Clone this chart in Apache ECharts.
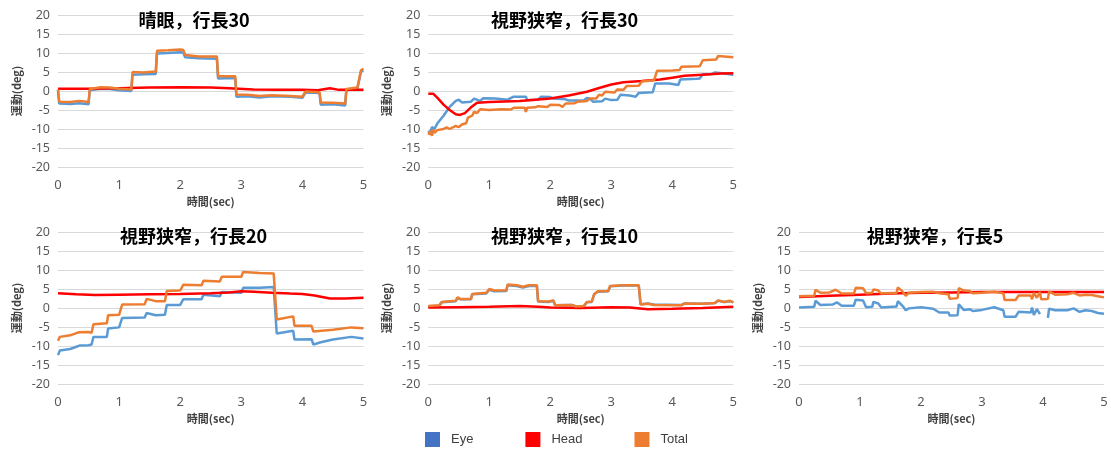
<!DOCTYPE html>
<html><head><meta charset="utf-8">
<script src="https://cdn.jsdelivr.net/npm/echarts@6/dist/echarts.min.js"></script>
<style>html,body{margin:0;padding:0;background:#fff}#c{width:1111px;height:452px}</style>
</head><body><div id="c"></div>
<script>
// ---- data ----
const titles = ['晴眼，行長30', '視野狭窄，行長30', '視野狭窄，行長20', '視野狭窄，行長10', '視野狭窄，行長5'];
const seriesNames = ['Eye', 'Head', 'Total'];
const xName = '時間(sec)';
const yName = '運動(deg)';
const xMin = 0, xMax = 5, xStep = 1;
const yMin = -20, yMax = 20, yStep = 5;

// panel 1: 晴眼，行長30
const eye1 = [[0,0.2],[0.02,-3.3],[0.2,-3.4],[0.35,-3.2],[0.5,-3.5],[0.52,0.2],[0.7,0.6],[0.85,0.5],[1.0,0.2],[1.2,0.0],[1.22,4.3],[1.4,4.4],[1.6,4.5],[1.62,9.9],[1.8,10.0],[2.0,10.2],[2.05,10.1],[2.08,8.9],[2.3,8.6],[2.6,8.5],[2.62,3.3],[2.9,3.4],[2.92,-1.5],[3.1,-1.4],[3.3,-1.7],[3.5,-1.4],[3.8,-1.5],[4.0,-1.8],[4.05,-0.4],[4.28,-0.5],[4.3,-3.6],[4.5,-3.5],[4.7,-3.8],[4.72,0.2],[4.9,0.6],[4.93,0.7],[4.96,5.2],[5,5.4]];
const head1 = [[0,0.6],[0.5,0.6],[1,0.7],[1.5,0.9],[2,1.0],[2.5,0.9],[2.8,0.7],[3.2,0.4],[3.6,0.3],[4,0.3],[4.25,0.2],[4.45,0.7],[4.6,0.3],[5,0.3]];
const total1 = [[0,0.4],[0.02,-2.8],[0.2,-2.9],[0.35,-2.6],[0.5,-2.9],[0.52,0.5],[0.7,1.0],[0.85,0.9],[1.0,0.6],[1.2,0.4],[1.22,5.0],[1.4,4.9],[1.6,5.1],[1.62,10.6],[1.8,10.7],[2.0,10.9],[2.05,10.8],[2.08,9.5],[2.3,9.1],[2.6,9.1],[2.62,3.9],[2.9,3.9],[2.92,-0.9],[3.1,-1.0],[3.3,-1.3],[3.5,-1.1],[3.8,-1.3],[4.0,-1.5],[4.05,-0.1],[4.28,-0.3],[4.3,-3.0],[4.5,-3.1],[4.7,-3.3],[4.72,0.5],[4.9,0.9],[4.93,1.0],[4.96,5.5],[5,5.8]];

// panel 2: 視野狭窄，行長30
const eye2 = [[0,-10.5],[0.03,-11.2],[0.06,-9.5],[0.1,-10],[0.15,-8.5],[0.25,-6.5],[0.35,-4.2],[0.45,-2.6],[0.5,-2.3],[0.55,-3.0],[0.7,-2.8],[0.75,-2.0],[0.85,-2.6],[0.9,-1.9],[1.1,-2.0],[1.3,-2.3],[1.4,-1.5],[1.6,-1.5],[1.62,-2.4],[1.8,-2.3],[1.85,-1.5],[2.0,-1.6],[2.05,-2.0],[2.25,-2.2],[2.3,-2.5],[2.55,-2.5],[2.6,-1.8],[2.65,-2.0],[2.7,-2.8],[2.85,-2.7],[2.9,-2.0],[3.0,-2.4],[3.1,-2.3],[3.15,-1.0],[3.3,-1.2],[3.4,-1.5],[3.45,-0.5],[3.68,-0.3],[3.72,2.0],[3.95,2.0],[4.1,1.6],[4.13,3.0],[4.4,3.2],[4.45,3.3],[4.5,4.4],[4.65,4.5],[4.7,4.9],[4.85,4.6],[5,4.3]];
const head2 = [[0,-0.7],[0.08,-0.7],[0.15,-1.8],[0.25,-3.6],[0.35,-5.0],[0.45,-6.1],[0.52,-6.3],[0.6,-5.8],[0.7,-4.3],[0.8,-3.1],[1.0,-2.9],[1.5,-2.6],[2.0,-2.0],[2.3,-1.2],[2.6,-0.2],[2.8,0.8],[3.0,1.7],[3.2,2.3],[3.5,2.6],[3.8,3.0],[4.0,3.5],[4.2,4.0],[4.5,4.3],[4.8,4.6],[5,4.7]];
const total2 = [[0,-11.5],[0.02,-12.0],[0.04,-10.5],[0.06,-11.8],[0.08,-10.2],[0.1,-11.0],[0.15,-10.3],[0.25,-10.0],[0.3,-9.6],[0.35,-10.0],[0.45,-9.2],[0.5,-9.5],[0.55,-8.8],[0.62,-8.5],[0.65,-7.0],[0.72,-6.5],[0.75,-5.5],[0.8,-5.8],[0.85,-4.8],[1.0,-5.0],[1.2,-4.8],[1.35,-4.9],[1.4,-4.4],[1.58,-4.4],[1.6,-5.5],[1.62,-4.4],[1.75,-4.3],[1.8,-4.0],[1.95,-4.2],[2.0,-3.6],[2.15,-3.7],[2.2,-4.2],[2.25,-3.3],[2.4,-3.2],[2.45,-2.8],[2.6,-2.6],[2.65,-2.0],[2.75,-2.0],[2.8,-1.0],[2.85,-1.2],[2.9,-0.2],[3.05,-0.4],[3.1,0.4],[3.2,0.3],[3.25,1.3],[3.45,1.4],[3.5,2.5],[3.7,2.8],[3.75,5.3],[4.0,5.4],[4.12,5.5],[4.15,6.4],[4.45,6.5],[4.5,8.1],[4.72,8.3],[4.75,9.2],[5,8.9]];

// panel 3: 視野狭窄，行長20
const eye3 = [[0,-12.4],[0.03,-11.2],[0.2,-10.8],[0.3,-10.2],[0.35,-9.9],[0.5,-9.8],[0.55,-9.6],[0.58,-7.6],[0.8,-7.6],[0.82,-5.4],[1.0,-5.1],[1.05,-2.6],[1.42,-2.5],[1.45,-1.3],[1.6,-1.9],[1.75,-1.8],[1.78,0.8],[2.0,0.8],[2.05,2.3],[2.35,2.3],[2.38,3.5],[2.65,3.1],[2.68,4.2],[3.0,4.0],[3.03,5.3],[3.3,5.3],[3.53,5.5],[3.58,-6.7],[3.85,-6.0],[3.87,-8.3],[4.15,-8.2],[4.18,-9.6],[4.3,-9.0],[4.5,-8.3],[4.8,-7.6],[5,-8.0]];
const head3 = [[0,3.9],[0.3,3.6],[0.6,3.4],[1.0,3.5],[1.5,3.6],[2.0,3.7],[2.5,3.9],[2.8,4.1],[3.0,4.4],[3.2,4.3],[3.5,4.0],[3.8,3.8],[4.0,3.7],[4.2,3.3],[4.45,2.5],[4.7,2.5],[5,2.7]];
const total3 = [[0,-8.6],[0.03,-7.6],[0.2,-7.2],[0.3,-6.6],[0.35,-6.4],[0.5,-6.3],[0.55,-6.5],[0.58,-4.3],[0.8,-4.0],[0.82,-1.9],[1.0,-1.8],[1.05,0.9],[1.42,1.0],[1.45,2.4],[1.6,1.8],[1.75,1.8],[1.78,4.5],[2.0,4.6],[2.05,6.1],[2.35,6.0],[2.38,7.2],[2.65,7.0],[2.68,8.2],[3.0,8.2],[3.03,9.5],[3.3,9.2],[3.53,9.1],[3.58,-3.0],[3.85,-2.2],[3.87,-4.7],[4.15,-4.7],[4.18,-6.2],[4.5,-5.7],[4.8,-5.1],[5,-5.3]];

// panel 4: 視野狭窄，行長10
const eye4 = [[0,0.4],[0.18,0.6],[0.22,1.5],[0.45,1.8],[0.48,2.7],[0.52,2.3],[0.7,2.3],[0.72,3.6],[0.95,3.8],[1.0,4.8],[1.08,4.4],[1.28,4.5],[1.3,6.0],[1.45,5.8],[1.55,5.4],[1.65,5.8],[1.78,5.8],[1.8,1.7],[1.97,1.6],[2.05,1.9],[2.08,0.7],[2.35,0.8],[2.42,0.4],[2.55,0.5],[2.6,1.5],[2.68,1.6],[2.72,3.6],[2.78,4.3],[2.95,4.4],[2.98,5.7],[3.2,5.9],[3.45,5.9],[3.48,1.0],[3.6,1.2],[3.7,0.9],[4.15,0.8],[4.2,1.2],[4.5,1.1],[4.7,1.3],[4.75,1.9],[4.85,1.6],[4.95,1.8],[5,1.5]];
const head4 = [[0,0.1],[0.5,0.2],[1.0,0.3],[1.5,0.5],[1.8,0.3],[2.0,0.1],[2.5,0.0],[3.0,0.2],[3.3,0.1],[3.6,-0.3],[4.0,-0.2],[4.5,0.0],[5,0.3]];
const total4 = [[0,0.5],[0.18,0.7],[0.22,1.6],[0.45,1.9],[0.48,2.8],[0.52,2.4],[0.7,2.4],[0.72,3.7],[0.95,4.0],[1.0,5.0],[1.08,4.6],[1.28,4.7],[1.3,6.2],[1.45,6.0],[1.55,5.6],[1.65,6.0],[1.78,6.0],[1.8,1.8],[1.97,1.7],[2.05,2.0],[2.08,0.7],[2.35,0.8],[2.42,0.4],[2.55,0.5],[2.6,1.6],[2.68,1.7],[2.72,3.7],[2.78,4.4],[2.95,4.5],[2.98,5.8],[3.2,6.0],[3.45,6.0],[3.48,0.9],[3.6,1.1],[3.7,0.8],[4.15,0.7],[4.2,1.2],[4.5,1.1],[4.7,1.3],[4.75,2.0],[4.85,1.6],[4.95,1.9],[5,1.5]];

// panel 5: 視野狭窄，行長5
const eye5 = [[0,0.1],[0.25,0.3],[0.27,1.9],[0.35,0.8],[0.55,0.9],[0.62,1.5],[0.7,0.6],[0.9,0.6],[0.93,2.2],[1.05,2.0],[1.1,0.2],[1.2,0.3],[1.22,1.6],[1.3,1.2],[1.35,0.1],[1.6,0.4],[1.62,1.8],[1.7,0.5],[1.75,-0.6],[1.8,-0.1],[2.0,0.2],[2.2,-0.2],[2.3,-1.2],[2.45,-1.2],[2.47,-2.0],[2.6,-1.9],[2.62,1.0],[2.7,-0.5],[2.8,-0.3],[2.85,-0.8],[3.0,-0.5],[3.2,0.2],[3.35,-0.6],[3.37,-2.3],[3.55,-2.3],[3.6,-1.0],[3.8,-1.2],[3.82,0.1],[3.85,-1.8],[3.9,-0.3],[3.95,-1.6],[3.97,null],[4.08,-2.6],[4.1,-0.2],[4.2,-0.6],[4.4,-0.6],[4.5,-0.1],[4.6,-1.0],[4.7,-0.6],[4.8,-0.8],[4.9,-1.3],[5,-1.5]];
const head5 = [[0,2.9],[0.5,3.2],[1.0,3.5],[1.5,3.8],[2.0,4.0],[2.5,4.1],[3.0,4.2],[3.5,4.2],[4.0,4.2],[5,4.2]];
const total5 = [[0,3.1],[0.25,3.2],[0.27,4.8],[0.35,4.0],[0.5,4.1],[0.6,4.8],[0.7,3.8],[0.9,3.8],[0.93,5.3],[1.05,5.2],[1.1,3.9],[1.2,4.0],[1.22,4.9],[1.3,4.6],[1.35,3.8],[1.6,4.0],[1.62,5.4],[1.7,4.3],[1.75,3.2],[1.8,4.0],[2.0,4.2],[2.2,4.3],[2.3,3.9],[2.45,3.6],[2.47,2.4],[2.6,2.6],[2.62,5.2],[2.7,4.6],[2.8,4.5],[2.85,3.9],[3.0,4.0],[3.2,4.3],[3.35,3.9],[3.37,2.1],[3.55,2.1],[3.6,3.3],[3.8,3.3],[3.82,2.3],[3.85,4.0],[3.9,2.7],[3.95,4.2],[3.97,2.3],[4.08,2.4],[4.1,4.3],[4.2,3.5],[4.4,3.6],[4.5,4.0],[4.6,3.3],[4.7,3.5],[4.8,3.4],[4.9,3.1],[5,2.8]];

const panels = [[eye1, head1, total1], [eye2, head2, total2], [eye3, head3, total3], [eye4, head4, total4], [eye5, head5, total5]];

// ---- styling / layout ----
const lineColors = ['#5B9BD5', '#FF0000', '#ED7D31'];
const legendColors = ['#4472C4', '#FF0000', '#ED7D31'];
const gridBoxes = [
  {left: 58, top: 15, width: 305.5, height: 152},
  {left: 428.3, top: 15, width: 305, height: 152},
  {left: 58, top: 232, width: 305.5, height: 152},
  {left: 428.3, top: 232, width: 305, height: 152},
  {left: 799, top: 232, width: 305, height: 152}
];
const titlePos = [[189, 6], [559.5, 6], [188.5, 222], [559.5, 222], [930, 222]];

const grid = [], xAxis = [], yAxis = [], series = [], title = [];
gridBoxes.forEach((g, i) => {
  grid.push(Object.assign({containLabel: false}, g));
  title.push({
    text: titles[i], left: titlePos[i][0], top: titlePos[i][1], textAlign: 'center',
    textStyle: {fontFamily: 'Noto Sans CJK JP', fontWeight: 'bold', fontSize: 18, color: '#000'}
  });
  xAxis.push({
    type: 'value', gridIndex: i, min: xMin, max: xMax, interval: xStep,
    name: xName, nameLocation: 'middle', nameGap: 29,
    nameTextStyle: {fontFamily: 'Noto Sans CJK JP', fontWeight: 'bold', fontSize: 11, color: '#404040'},
    axisLine: {show: false}, axisTick: {show: false}, splitLine: {show: false},
    axisLabel: {fontFamily: 'Noto Sans', fontSize: 13, color: '#595959', margin: 12}
  });
  yAxis.push({
    type: 'value', gridIndex: i, min: yMin, max: yMax, interval: yStep,
    name: yName, nameLocation: 'middle', nameGap: 36,
    nameTextStyle: {fontFamily: 'Noto Sans CJK JP', fontWeight: 'bold', fontSize: 11, color: '#404040'},
    axisLine: {show: false}, axisTick: {show: false},
    splitLine: {lineStyle: {color: '#D9D9D9', width: 1}},
    axisLabel: {fontFamily: 'Noto Sans', fontSize: 12.5, color: '#595959', margin: 8}
  });
  panels[i].forEach((d, k) => {
    series.push({
      type: 'line', name: seriesNames[k], xAxisIndex: i, yAxisIndex: i, data: d,
      showSymbol: false, symbol: 'none', connectNulls: false,
      lineStyle: {color: lineColors[k], width: 2.5}, itemStyle: {color: lineColors[k]},
      z: 2 + k
    });
  });
});

const chart = echarts.init(document.getElementById('c'));
chart.setOption({
  animation: false,
  backgroundColor: '#fff',
  title: title,
  grid: grid, xAxis: xAxis, yAxis: yAxis, series: series,
  legend: {
    left: 425, top: 432, padding: 0, itemWidth: 15, itemHeight: 15, itemGap: 52, icon: 'rect',
    data: seriesNames.map((n, k) => ({name: n, itemStyle: {color: legendColors[k]}})),
    textStyle: {fontFamily: 'Liberation Sans', fontSize: 13, color: '#404040', padding: [0, 0, 0, 6]}
  }
});
</script></body></html>
